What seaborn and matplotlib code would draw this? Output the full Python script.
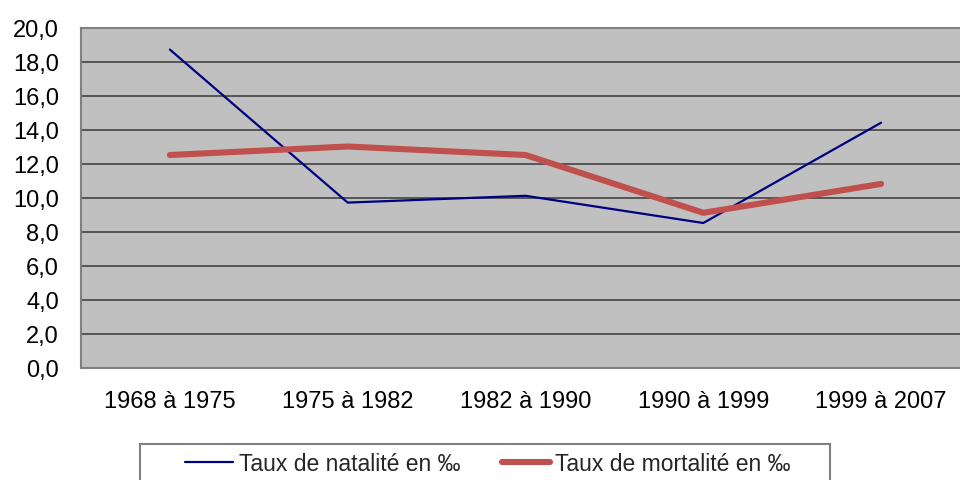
import numpy as np
import pandas as pd
import matplotlib
matplotlib.use("Agg")
import matplotlib.pyplot as plt
from matplotlib.patches import Rectangle
from matplotlib.ticker import FuncFormatter, MultipleLocator
import seaborn as sns

periods = ["1968 à 1975", "1975 à 1982", "1982 à 1990", "1990 à 1999", "1999 à 2007"]
natalite = [18.7, 9.7, 10.1, 8.5, 14.4]
mortalite = [12.5, 13.0, 12.5, 9.1, 10.8]
series_names = ["Taux de natalité en ‰", "Taux de mortalité en ‰"]
colors = ["#000080", "#C0504D"]
widths = [1.6, 4.4]

df = pd.DataFrame({
    "periode": periods * 2,
    "valeur": natalite + mortalite,
    "serie": [series_names[0]] * len(periods) + [series_names[1]] * len(periods),
})

sns.set_theme(style="white")
plt.rcParams["font.family"] = ["Liberation Sans", "DejaVu Sans"]

W, H = 960, 481
fig = plt.figure(figsize=(9.6, 4.81), dpi=100)
left, right, top, bottom = 81, 970, 28.5, 368.5
ax = fig.add_axes([left / W, 1 - bottom / H, (right - left) / W, (bottom - top) / H])
ax.set_facecolor("#C0C0C0")

for name, col, lw in zip(series_names, colors, widths):
    sub = df[df["serie"] == name]
    sns.lineplot(data=sub, x="periode", y="valeur", ax=ax, color=col,
                 linewidth=lw, label=name, sort=False)

ax.set_xlim(-0.5, len(periods) - 0.5)
ax.set_ylim(0, 20)
ax.yaxis.set_major_locator(MultipleLocator(2))
ax.yaxis.set_major_formatter(FuncFormatter(lambda v, p: f"{v:.1f}".replace(".", ",")))
ax.grid(axis="y", color="#555555", linewidth=1.4)
ax.set_axisbelow(True)
for s in ax.spines.values():
    s.set_color("#808080")
    s.set_linewidth(1.5)
ax.tick_params(axis="both", length=0, labelsize=17, colors="black")
ax.tick_params(axis="x", pad=16)
ax.tick_params(axis="y", pad=16)
ax.set_xlabel("")
ax.set_ylabel("")

ax.get_legend().remove()
handles, labels = ax.get_legend_handles_labels()
leg = fig.legend(handles, labels, loc="center left",
                 bbox_to_anchor=(185 / W, 1 - 465 / H), ncol=2, frameon=False,
                 fontsize=16.5, handlelength=2.1, handletextpad=0.25,
                 columnspacing=1.8, borderpad=0, borderaxespad=0)
fig.add_artist(Rectangle((140 / W, -0.05), (830 - 140) / W, (1 - 445 / H) + 0.05,
                         transform=fig.transFigure, fill=False,
                         edgecolor="#808080", linewidth=1.5, clip_on=False))

fig.savefig("out.png", dpi=100)
